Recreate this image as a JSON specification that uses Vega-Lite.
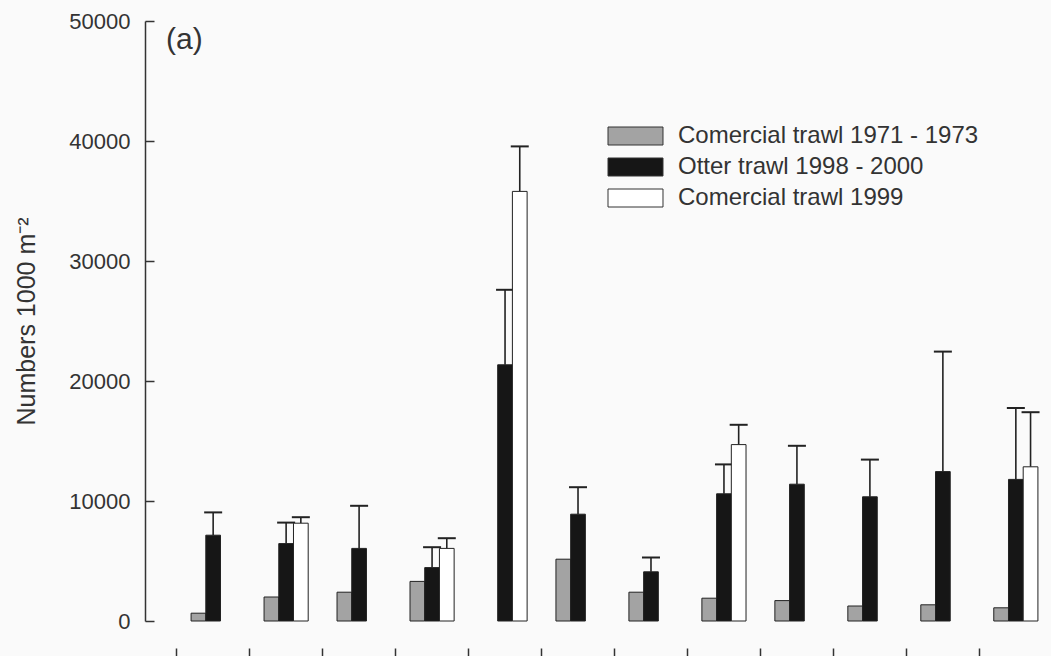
{
  "$schema": "https://vega.github.io/schema/vega-lite/v6.json",
  "width": 939,
  "height": 600,
  "autosize": {"type": "none"},
  "padding": {"left": 145, "top": 21, "right": 0, "bottom": 35},
  "background": "#fafafa",
  "config": {"view": {"stroke": null}, "font": "Liberation Sans"},
  "title": {
    "text": "(a)",
    "orient": "top",
    "anchor": "start",
    "frame": "group",
    "offset": 0,
    "baseline": "alphabetic",
    "dx": 21,
    "dy": 69,
    "fontSize": 30,
    "fontWeight": "normal",
    "font": "Liberation Sans",
    "color": "#333333"
  },
  "data": {
    "values": [
      {"group": "1", "series": "Comercial trawl 1971 - 1973", "value": 650, "upper": null},
      {"group": "1", "series": "Otter trawl 1998 - 2000", "value": 7150, "upper": 9050},
      {"group": "2", "series": "Comercial trawl 1971 - 1973", "value": 2000, "upper": null},
      {"group": "2", "series": "Otter trawl 1998 - 2000", "value": 6450, "upper": 8200},
      {"group": "2", "series": "Comercial trawl 1999", "value": 8150, "upper": 8650},
      {"group": "3", "series": "Comercial trawl 1971 - 1973", "value": 2400, "upper": null},
      {"group": "3", "series": "Otter trawl 1998 - 2000", "value": 6050, "upper": 9600},
      {"group": "4", "series": "Comercial trawl 1971 - 1973", "value": 3300, "upper": null},
      {"group": "4", "series": "Otter trawl 1998 - 2000", "value": 4450, "upper": 6150},
      {"group": "4", "series": "Comercial trawl 1999", "value": 6050, "upper": 6900},
      {"group": "5", "series": "Otter trawl 1998 - 2000", "value": 21350, "upper": 27600},
      {"group": "5", "series": "Comercial trawl 1999", "value": 35800, "upper": 39550},
      {"group": "6", "series": "Comercial trawl 1971 - 1973", "value": 5150, "upper": null},
      {"group": "6", "series": "Otter trawl 1998 - 2000", "value": 8900, "upper": 11150},
      {"group": "7", "series": "Comercial trawl 1971 - 1973", "value": 2400, "upper": null},
      {"group": "7", "series": "Otter trawl 1998 - 2000", "value": 4100, "upper": 5300},
      {"group": "8", "series": "Comercial trawl 1971 - 1973", "value": 1900, "upper": null},
      {"group": "8", "series": "Otter trawl 1998 - 2000", "value": 10600, "upper": 13050},
      {"group": "8", "series": "Comercial trawl 1999", "value": 14700, "upper": 16350},
      {"group": "9", "series": "Comercial trawl 1971 - 1973", "value": 1700, "upper": null},
      {"group": "9", "series": "Otter trawl 1998 - 2000", "value": 11400, "upper": 14600},
      {"group": "10", "series": "Comercial trawl 1971 - 1973", "value": 1250, "upper": null},
      {"group": "10", "series": "Otter trawl 1998 - 2000", "value": 10350, "upper": 13450},
      {"group": "11", "series": "Comercial trawl 1971 - 1973", "value": 1350, "upper": null},
      {"group": "11", "series": "Otter trawl 1998 - 2000", "value": 12450, "upper": 22450},
      {"group": "12", "series": "Comercial trawl 1971 - 1973", "value": 1100, "upper": null},
      {"group": "12", "series": "Otter trawl 1998 - 2000", "value": 11800, "upper": 17750},
      {"group": "12", "series": "Comercial trawl 1999", "value": 12850, "upper": 17400}
    ]
  },
  "encoding": {
    "x": {
      "field": "group",
      "type": "nominal",
      "sort": ["1", "2", "3", "4", "5", "6", "7", "8", "9", "10", "11", "12"],
      "scale": {"paddingInner": 0, "paddingOuter": 0.434},
      "axis": {
        "labels": false,
        "title": null,
        "domain": false,
        "ticks": true,
        "tickSize": 12,
        "tickColor": "#333333",
        "tickWidth": 1.5,
        "offset": 27,
        "bandPosition": 0,
        "grid": false
      }
    },
    "xOffset": {
      "field": "series",
      "type": "nominal",
      "sort": ["Comercial trawl 1971 - 1973", "Otter trawl 1998 - 2000", "Comercial trawl 1999"],
      "scale": {"paddingInner": 0, "paddingOuter": 0.98}
    },
    "y": {
      "field": "value",
      "type": "quantitative",
      "title": "Numbers 1000 m⁻²",
      "scale": {"domain": [0, 50000], "nice": false, "zero": true},
      "axis": {
        "values": [0, 10000, 20000, 30000, 40000, 50000],
        "format": "d",
        "grid": false,
        "tickSize": -9,
        "tickColor": "#333333",
        "tickWidth": 1.5,
        "domainColor": "#333333",
        "domainWidth": 1.5,
        "labelFontSize": 22,
        "labelFont": "Liberation Sans",
        "labelColor": "#333333",
        "labelPadding": 24,
        "titleFontSize": 25,
        "titleFont": "Liberation Sans",
        "titleFontWeight": "normal",
        "titleColor": "#333333",
        "titlePadding": 29
      }
    }
  },
  "layer": [
    {
      "transform": [{"filter": "datum.upper != null"}],
      "mark": {"type": "rule", "strokeWidth": 1.6, "color": "#222222"},
      "encoding": {"y2": {"field": "upper"}}
    },
    {
      "transform": [{"filter": "datum.upper != null"}],
      "mark": {"type": "tick", "orient": "horizontal", "size": 18, "thickness": 2, "color": "#222222", "opacity": 1},
      "encoding": {"y": {"field": "upper", "type": "quantitative", "title": "Numbers 1000 m⁻²"}}
    },
    {
      "mark": {"type": "bar", "stroke": "#222222", "strokeWidth": 1, "opacity": 1},
      "encoding": {
        "fill": {
          "field": "series",
          "type": "nominal",
          "sort": ["Comercial trawl 1971 - 1973", "Otter trawl 1998 - 2000", "Comercial trawl 1999"],
          "scale": {
            "domain": ["Comercial trawl 1971 - 1973", "Otter trawl 1998 - 2000", "Comercial trawl 1999"],
            "range": ["#a3a3a3", "#161616", "#ffffff"]
          },
          "legend": {
            "orient": "none",
            "legendX": 460,
            "legendY": 103,
            "title": null,
            "padding": 0,
            "symbolType": "M-1,-1H5.11V1H-1Z",
            "symbolSize": 324,
            "symbolStrokeColor": "#333333",
            "symbolStrokeWidth": 1,
            "symbolOpacity": 1,
            "labelFontSize": 24,
            "labelFont": "Liberation Sans",
            "labelColor": "#333333",
            "labelOffset": 49,
            "labelLimit": 500,
            "rowPadding": 7
          }
        }
      }
    }
  ]
}
